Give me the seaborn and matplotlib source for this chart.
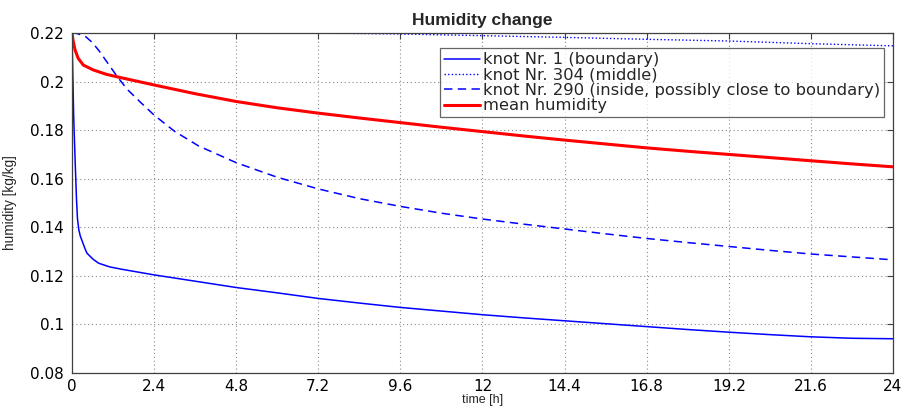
import numpy as np
import pandas as pd
import matplotlib
matplotlib.use("Agg")
import matplotlib.pyplot as plt
import seaborn as sns

# ---- data ----
t_knot1 = [0, 0.02, 0.05, 0.09, 0.13, 0.16, 0.2, 0.24, 0.29, 0.38, 0.44, 0.62, 0.78, 1.1, 1.46, 2.4, 3.6,
           4.8, 6.0, 7.2, 8.4, 9.6, 10.8, 12, 13.2, 14.4, 15.6, 16.8, 18, 19.2, 20.4, 21.6, 22.8, 24]
h_knot1 = [0.22, 0.205, 0.185, 0.168, 0.152, 0.1435, 0.1390, 0.1365, 0.1346, 0.1312, 0.1293, 0.1268,
           0.1252, 0.1237, 0.1227, 0.1204, 0.1178, 0.1152, 0.1130, 0.1107, 0.1088, 0.1070, 0.1055,
           0.1040, 0.1027, 0.1015, 0.1003, 0.0991, 0.0979, 0.0968, 0.0958, 0.0949, 0.0943, 0.0941]

t_knot304 = [0, 2.4, 4.8, 7.2, 8.4, 9.6, 10.8, 12, 13.2, 14.4, 15.6, 16.8, 18, 19.2, 20.4, 21.6, 22.8, 24]
h_knot304 = [0.22, 0.22, 0.21998, 0.21990, 0.21980, 0.21960, 0.21925, 0.21890, 0.21855, 0.21820,
             0.21780, 0.21740, 0.21705, 0.21670, 0.21615, 0.21560, 0.21515, 0.21470]

t_knot290 = [0, 0.15, 0.4, 0.6, 0.8, 1.0, 1.3, 1.6, 2.0, 2.4, 3.0, 3.7, 4.8, 6.0, 7.2, 8.4, 9.6,
             10.8, 12, 13.2, 14.4, 15.6, 16.8, 18, 19.2, 20.4, 21.6, 22.8, 24]
h_knot290 = [0.22, 0.2198, 0.2185, 0.2160, 0.2125, 0.2085, 0.2025, 0.1970, 0.1915, 0.1862, 0.1795,
             0.1735, 0.1666, 0.1606, 0.1558, 0.1518, 0.1486, 0.1458, 0.1434, 0.1413, 0.1393, 0.1373,
             0.1354, 0.1337, 0.1321, 0.1305, 0.1290, 0.1278, 0.1266]

t_mean = [0, 0.03, 0.09, 0.18, 0.33, 0.62, 1.0, 1.4, 2.4, 3.6, 4.8, 6.0, 7.2, 8.4, 9.6, 10.8, 12,
          13.2, 14.4, 15.6, 16.8, 18, 19.2, 20.4, 21.6, 22.8, 24]
h_mean = [0.22, 0.217, 0.213, 0.2096, 0.2068, 0.2048, 0.2030, 0.2017, 0.1986, 0.1950, 0.1918,
          0.1892, 0.1870, 0.1850, 0.1831, 0.1812, 0.1794, 0.1776, 0.1759, 0.1743, 0.1727, 0.1713,
          0.1700, 0.1687, 0.1674, 0.1661, 0.1649]

x_ticks = [0, 2.4, 4.8, 7.2, 9.6, 12, 14.4, 16.8, 19.2, 21.6, 24]
x_ticklabels = ["0", "2.4", "4.8", "7.2", "9.6", "12", "14.4", "16.8", "19.2", "21.6", "24"]
y_ticks = [0.08, 0.1, 0.12, 0.14, 0.16, 0.18, 0.2, 0.22]
y_ticklabels = ["0.08", "0.1", "0.12", "0.14", "0.16", "0.18", "0.2", "0.22"]

labels = ["knot Nr. 1 (boundary)", "knot Nr. 304 (middle)",
          "knot Nr. 290 (inside, possibly close to boundary)", "mean humidity"]

sns.set_theme(style="white")
plt.rcParams["font.family"] = ["DejaVu Sans"]

fig = plt.figure(figsize=(9.06, 4.09), dpi=100)
ax = fig.add_axes([72 / 906, 36 / 409, 821 / 906, 340 / 409])

sns.lineplot(x=t_knot1, y=h_knot1, ax=ax, color="#0000ff", lw=1.1, label=labels[0])
sns.lineplot(x=t_knot304, y=h_knot304, ax=ax, color="#0000ff", lw=1.0, label=labels[1],
             linestyle=(0, (1, 1.6)))
sns.lineplot(x=t_knot290, y=h_knot290, ax=ax, color="#0000ff", lw=1.1, label=labels[2],
             linestyle=(0, (5.5, 3.5)))
sns.lineplot(x=t_mean, y=h_mean, ax=ax, color="#ff0000", lw=2.2, label=labels[3])

ax.set_xlim(0, 24)
ax.set_ylim(0.08, 0.22)
ax.set_xticks(x_ticks)
ax.set_xticklabels(x_ticklabels)
ax.set_yticks(y_ticks)
ax.set_yticklabels(y_ticklabels)
ax.tick_params(direction="in", length=4, width=0.8, color="#404040", labelsize=11,
               labelcolor="black", top=True, right=True)
ax.tick_params(axis="y", pad=6)
ax.tick_params(axis="x", pad=4)
ax.grid(True, linestyle=(0, (1, 2.5)), color="#8c8c8c", lw=0.8)
for s in ax.spines.values():
    s.set_color("#404040")
    s.set_linewidth(0.9)
    s.set_visible(True)

ax.set_title("Humidity change", fontsize=12.5, fontweight="bold", pad=6,
             family=["Liberation Sans", "DejaVu Sans"])
ax.set_xlabel("time [h]", fontsize=9, labelpad=0, family=["Liberation Sans", "DejaVu Sans"])
ax.set_ylabel("humidity [kg/kg]", fontsize=9.8,
              family=["Liberation Sans Narrow", "Liberation Sans", "DejaVu Sans"])
ax.yaxis.set_label_coords(-0.067, 0.5)

leg = ax.legend(loc="upper right", bbox_to_anchor=(0.989, 0.955), fontsize=11.8,
                frameon=True, fancybox=False, handlelength=2.2, handletextpad=0.15,
                borderpad=0.25, labelspacing=0.02, borderaxespad=0)
leg.get_frame().set_edgecolor("#404040")
leg.get_frame().set_linewidth(0.9)

fig.savefig("out.png", dpi=100)
